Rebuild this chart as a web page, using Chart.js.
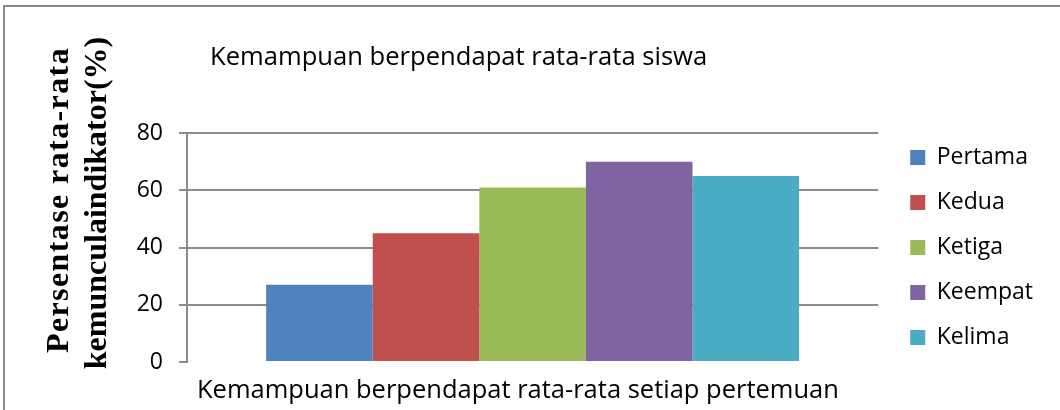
<!DOCTYPE html>
<html><head><meta charset="utf-8">
<script src="https://cdn.jsdelivr.net/npm/chart.js@4.4.0/dist/chart.umd.min.js"></script>
<style>
html,body{margin:0;padding:0;background:#fff;}
#wrap{position:relative;width:1060px;height:410px;overflow:hidden;background:#fff;}
#frame{position:absolute;left:3px;top:5px;width:1200px;height:600px;border-top:2px solid #888;border-left:2px solid #888;pointer-events:none;}
canvas{position:absolute;left:0;top:0;}
</style></head><body>
<div id="wrap"><canvas id="c" width="1060" height="410"></canvas><div id="frame"></div></div>
<script>
const categories = [''];
const seriesNames = ['Pertama', 'Kedua', 'Ketiga', 'Keempat', 'Kelima'];
const seriesValues = [27, 45, 61, 70, 65];
const seriesColors = ['#4F81BD', '#C0504D', '#9BBB59', '#8064A2', '#4BACC6'];
const yTickValues = [0, 20, 40, 60, 80];
const chartTitle = 'Kemampuan berpendapat rata-rata siswa';
const xAxisTitle = 'Kemampuan berpendapat rata-rata setiap pertemuan';
const yAxisTitleLines = ['Persentase rata-rata', 'kemunculaindikator(%)'];

const GRID = '#8c8c8c';
const SANS = '"Open Sans", "Noto Sans", sans-serif';

const textPlugin = {
  id: 'texts',
  afterLayout(chart) {
    const lg = chart.legend;
    if (lg) { const w = lg.right - lg.left; lg.left = chart.chartArea.right + 10; lg.right = lg.left + w; }
  },
  afterDraw(chart) {
    const ctx = chart.ctx;
    ctx.save();
    ctx.fillStyle = '#000';
    ctx.textBaseline = 'alphabetic';
    ctx.textAlign = 'left';
    ctx.font = '25.6px ' + SANS;
    ctx.fillText(chartTitle, 210, 65);
    ctx.font = '25.5px ' + SANS;
    ctx.fillText(xAxisTitle, 197, 398);
    ctx.font = 'bold 32px "Liberation Serif", "Times New Roman", serif';
    ctx.textAlign = 'center';
    ctx.textBaseline = 'middle';
    const xs = [60, 98];
    const ys = [200, 203];
    const spacing = ['1.4px', '0px'];
    yAxisTitleLines.forEach((t, i) => {
      ctx.save();
      ctx.letterSpacing = spacing[i];
      ctx.translate(xs[i], ys[i]);
      ctx.rotate(-Math.PI / 2);
      ctx.fillText(t, 0, 0);
      ctx.restore();
    });
    ctx.restore();
  }
};

const chart = new Chart(document.getElementById('c'), {
  type: 'bar',
  data: {
    labels: categories,
    datasets: seriesNames.map((n, i) => ({
      label: n,
      data: [seriesValues[i]],
      backgroundColor: seriesColors[i],
      borderWidth: 0,
      categoryPercentage: 0.771,
      barPercentage: 1
    }))
  },
  options: {
    responsive: false,
    animation: false,
    devicePixelRatio: 1,
    layout: { padding: { top: 85, bottom: 0, left: 0, right: 27 } },
    plugins: {
      title: { display: false },
      tooltip: { enabled: false },
      legend: {
        position: 'right',
        fullSize: true,
        labels: {
          boxWidth: 15, boxHeight: 15, padding: 22, color: '#000',
          font: { family: SANS, size: 23 }
        }
      }
    },
    scales: {
      x: {
        grid: { display: false },
        border: { display: false },
        ticks: { display: false },
        afterFit(s) { s.height = 48; }
      },
      y: {
        min: 0, max: 80,
        afterBuildTicks(s) { s.ticks = yTickValues.map(v => ({ value: v })); },
        ticks: { padding: 16, color: '#000', font: { family: SANS, size: 23 } },
        grid: {
          color: c => (c.tick && c.tick.value === 0) ? 'rgba(0,0,0,0)' : GRID,
          tickColor: GRID, lineWidth: 2, tickLength: 8
        },
        border: { color: GRID, width: 2 },
        afterFit(s) { s.width = 187; s.paddingTop = 133; }
      }
    }
  },
  plugins: [textPlugin]
});
</script>
</body></html>
